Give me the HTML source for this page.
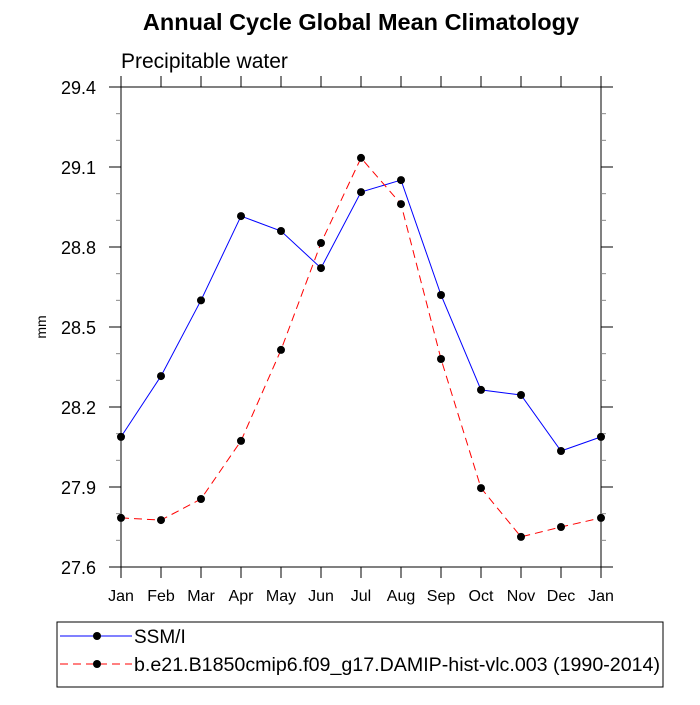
<!DOCTYPE html>
<html><head><meta charset="utf-8"><style>
body{margin:0;background:#fff;}
svg{font-family:"Liberation Sans",sans-serif;}
</style></head><body>
<svg id="chart" width="700" height="700">
<text x="361" y="30" text-anchor="middle" font-size="23.5" font-weight="bold">Annual Cycle Global Mean Climatology</text>
<text x="121" y="68" font-size="21">Precipitable water</text>
<text x="0" y="0" font-size="14" transform="translate(46,327) rotate(-90)" text-anchor="middle">mm</text>
<g id="axes"></g>
<g id="series"></g>
<rect x="57" y="622" width="606" height="65" fill="none" stroke="#000" stroke-width="1"/>
<g>
<line x1="60" y1="636" x2="132" y2="636" stroke="#0000ff" stroke-width="1"/>
<circle cx="97" cy="636" r="4" fill="#000"/>
<text x="134" y="643" font-size="19">SSM/I</text>
</g>
<g>
<line x1="60" y1="664" x2="132" y2="664" stroke="#ff0000" stroke-width="1" stroke-dasharray="8,5"/>
<circle cx="97" cy="664" r="4" fill="#000"/>
<text x="134" y="671" font-size="19" textLength="526" lengthAdjust="spacingAndGlyphs">b.e21.B1850cmip6.f09_g17.DAMIP-hist-vlc.003 (1990-2014)</text>
</g>
</svg>
<script>
const months = ["Jan","Feb","Mar","Apr","May","Jun","Jul","Aug","Sep","Oct","Nov","Dec","Jan"];
const ssmi = [28.088,28.316,28.60,28.916,28.86,28.721,29.006,29.051,28.62,28.264,28.245,28.035,28.088];
const model = [27.784,27.776,27.855,28.073,28.414,28.815,29.134,28.961,28.38,27.896,27.713,27.75,27.784];
const yTicks = ["27.6","27.9","28.2","28.5","28.8","29.1","29.4"];
const yMin = 27.6, yMax = 29.4;
const L=121,R=601,T=87,B=567;
const NS="http://www.w3.org/2000/svg";
function xs(i){return L+(R-L)*i/(months.length-1);}
function ys(v){return B-(B-T)*(v-yMin)/(yMax-yMin);}
function mk(tag,attrs,parent){const e=document.createElementNS(NS,tag);for(const k in attrs)e.setAttribute(k,attrs[k]);parent.appendChild(e);return e;}
const ax=document.getElementById('axes');
const frame=mk('rect',{x:L,y:T,width:R-L,height:B-T,fill:'none',stroke:'#000','stroke-width':1},ax);


months.forEach((m,i)=>{
  const x=xs(i);
  mk('line',{x1:x,y1:B,x2:x,y2:B+11,stroke:'#000'},ax);
  mk('line',{x1:x,y1:T,x2:x,y2:T-11,stroke:'#000'},ax);
  const t=mk('text',{x:x,y:B+34,'text-anchor':'middle','font-size':16},ax);
  t.textContent=m;
  
  
});
yTicks.forEach((lab,i)=>{
  const v=parseFloat(lab), y=ys(v);
  mk('line',{x1:L-12,y1:y,x2:L,y2:y,stroke:'#000'},ax);
  mk('line',{x1:R,y1:y,x2:R+12,y2:y,stroke:'#000'},ax);
  const t=mk('text',{x:L-25,y:y+7,'text-anchor':'end','font-size':18},ax);
  t.textContent=lab;
  
  
  if(i<yTicks.length-1){
    for(let k=1;k<3;k++){
      const ym=ys(v+0.1*k);
      mk('line',{x1:L-5,y1:ym,x2:L,y2:ym,stroke:'#888'},ax);
      mk('line',{x1:R,y1:ym,x2:R+5,y2:ym,stroke:'#888'},ax);
    }
  }
});
const sg=document.getElementById('series');
function drawSeries(vals,color,dash,name){
  const g=mk('g',{},sg);
  
  
  const pts=vals.map((v,i)=>xs(i)+','+ys(v)).join(' ');
  const attrs={points:pts,fill:'none',stroke:color,'stroke-width':1};
  if(dash)attrs['stroke-dasharray']=dash;
  mk('polyline',attrs,g);
  vals.forEach((v,i)=>{
    const c=mk('circle',{cx:xs(i),cy:ys(v),r:4,fill:'#000'},g);
    
    
  });
}
drawSeries(ssmi,'#0000ff',null,'ssmi-series');
drawSeries(model,'#ff0000','8,5','model-series');
</script>
</body></html>
